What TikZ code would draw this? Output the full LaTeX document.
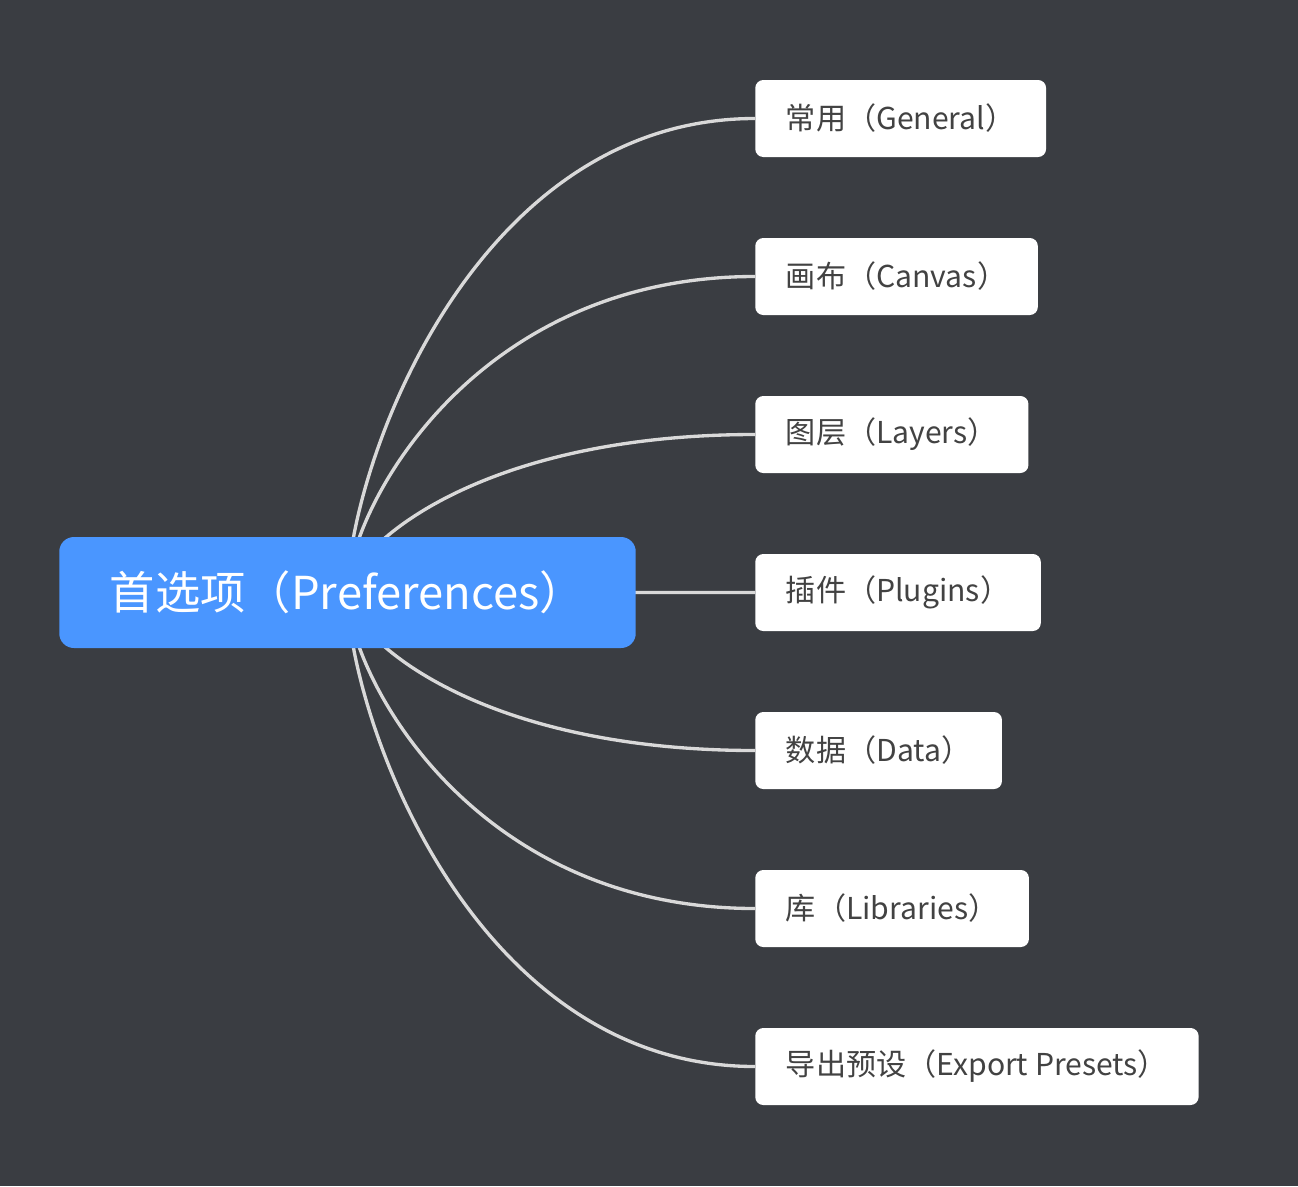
\documentclass[tikz,border=0pt]{standalone}
\usepackage{fontspec}
\setmainfont{Noto Sans CJK SC}
\usepackage{tikz}
\usetikzlibrary{calc}
\definecolor{dibu}{RGB}{58,61,66}
\definecolor{lan}{RGB}{74,150,255}
\definecolor{xian}{RGB}{217,217,217}
\definecolor{zi}{RGB}{66,66,66}
\pgfdeclarelayer{bglayer}
\pgfdeclarelayer{linelayer}
\pgfsetlayers{bglayer,linelayer,main}

\begin{document}
\begin{tikzpicture}[x=0.75pt,y=-0.75pt,line cap=round]
	\tikzstyle{zhuti}=[fill=lan,text=white,rounded corners=11pt,inner xsep=38pt,minimum height=83.25pt,font=\fontsize{34}{40}\selectfont];
	\tikzstyle{fenzhi}=[fill=white,text=zi,rounded corners=6pt,inner xsep=23pt,minimum height=57.75pt,anchor=west,font=\fontsize{22.6}{28}\selectfont];
	\tikzstyle{lianxian}=[draw=xian,line width=2.5pt];
\newcommand{\zuobian}{755}
%<--------------------------------------------------------------------------->%

	\useasboundingbox (0,0) rectangle (1298,1186);
	\begin{pgfonlayer}{bglayer}
	\fill[dibu] (0,0) rectangle (1298,1186);
	\end{pgfonlayer}
	%% root
	\node[zhuti] (root) at (347.5,592.5) {首选项（Preferences）};
	%% branches
	\node[fenzhi] (general)   at (\zuobian,118.5)  {常用（General）};
	\node[fenzhi] (canvas)    at (\zuobian,276.5)  {画布（Canvas）};
	\node[fenzhi] (layers)    at (\zuobian,434.5)  {图层（Layers）};
	\node[fenzhi] (plugins)   at (\zuobian,592.5)  {插件（Plugins）};
	\node[fenzhi] (data)      at (\zuobian,750.5)  {数据（Data）};
	\node[fenzhi] (libraries) at (\zuobian,908.5)  {库（Libraries）};
	\node[fenzhi] (presets)   at (\zuobian,1066.5) {导出预设（Export Presets）};
	%% lines
	\begin{pgfonlayer}{linelayer}
	\foreach \fz in {general,canvas,layers,plugins,data,libraries,presets}
	\draw[lianxian] (root.center) .. controls ($(root.center)!0.25!(root.center |- \fz.west)$) and ($(root.center |- \fz.west)!0.3!(\fz.west)$) .. (\fz.west);
	\end{pgfonlayer}
\end{tikzpicture}
\end{document}
